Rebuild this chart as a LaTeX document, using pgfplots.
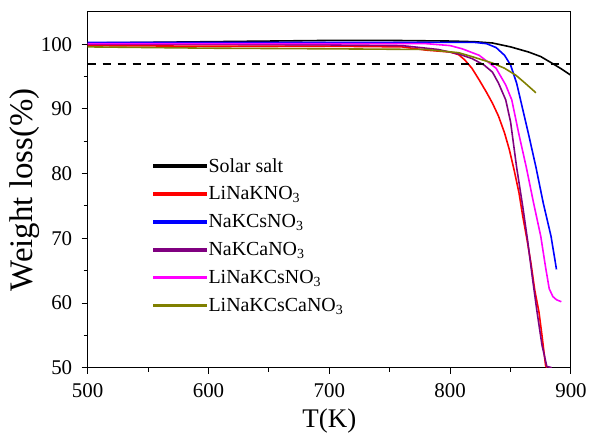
\documentclass[border=0pt]{standalone}
\usepackage{fontspec}
\setmainfont{Liberation Serif}
\usepackage{pgfplots}
\pgfplotsset{compat=1.18}
\usetikzlibrary{calc}
\definecolor{cpurple}{RGB}{128,0,128}
\definecolor{colive}{RGB}{128,128,0}
\definecolor{cmag}{RGB}{255,0,255}
\definecolor{cred}{RGB}{255,0,0}
\definecolor{cblue}{RGB}{0,0,255}
\begin{document}
\begin{tikzpicture}
\begin{axis}[
  scale only axis,
  width=485pt, height=357pt,
  xmin=500, xmax=900, ymin=50, ymax=105,
  xtick={500,600,700,800,900},
  ytick={50,60,70,80,90,100},
  minor x tick num=1, minor y tick num=1,
  tick align=outside, xtick pos=bottom, ytick pos=left,
  major tick length=6pt, minor tick length=4pt,
  axis line style={line width=1pt}, tick style={line width=1pt, black},
  /pgf/number format/assume math mode=true,
  ticklabel style={font=\fontsize{21}{24}\selectfont},
  xticklabel style={yshift=-6pt},
  yticklabel style={xshift=-6pt},
  xlabel={T(K)}, ylabel={Weight loss(\%)},
  xlabel style={font=\fontsize{27}{30}\selectfont, yshift=-5pt},
  ylabel style={font=\fontsize{33}{36}\selectfont, yshift=-6pt},
  legend cell align=left,
  legend style={at={(0.135,0.595)}, anchor=north west, draw=none, fill=none,
    font=\fontsize{20}{23}\selectfont, row sep=9.2pt, inner sep=0pt},
  legend image code/.code={\fill[#1] (0pt,-1pt) rectangle (52pt,1pt);},
]
\addplot[black, line width=1.6pt] coordinates {(500,100.2)(550,100.3)(600,100.4)(650,100.5)(700,100.6)(750,100.6)(800,100.5)(820,100.4)(835,100.2)(850,99.6)(865,98.8)(875,98.1)(885,97.0)(892,96.2)(900,95.2)};
\addlegendentry{Solar salt}
\addplot[cred, line width=1.6pt] coordinates {(500,99.8)(600,99.7)(700,99.7)(760,99.6)(780,99.1)(800,98.8)(807,98.4)(812,97.6)(818,96.3)(824,94.5)(830,92.6)(835,90.9)(840,88.9)(845,86.3)(849,83.7)(853,80.5)(857,77)(860,73.5)(863.6,69.8)(867,66)(870,62)(873.5,58.6)(876,55)(879,50.3)(880,50)};
\addlegendentry{LiNaKNO\textsubscript{3}}
\addplot[cblue, line width=1.6pt] coordinates {(500,100.3)(600,100.3)(700,100.3)(780,100.3)(820,100.3)(830,100.1)(838,99.5)(845,98.3)(850,96.8)(855,94.0)(860,90.0)(865,86.0)(871,81)(877,75.5)(883.5,70.3)(888,65.2)};
\addlegendentry{NaKCsNO\textsubscript{3}}
\addplot[cpurple, line width=1.6pt] coordinates {(500,100.0)(600,100.0)(700,99.9)(760,99.8)(790,99.2)(807,98.5)(818,97.8)(828,96.8)(835,95.7)(840,94)(846,91.4)(850,88)(855,81)(860,75)(864,69.8)(868,64)(872,58.5)(876,53.5)(880,50.2)(884,50.0)};
\addlegendentry{NaKCaNO\textsubscript{3}}
\addplot[cmag, line width=1.6pt] coordinates {(500,100.1)(600,100.1)(700,100.1)(780,100.1)(800,99.8)(810,99.3)(824,98.3)(838,96.3)(846,93.7)(851,91.4)(857,86)(863,81)(869,75.5)(875,70.3)(879,65.5)(882,62.2)(885,61)(888,60.5)(892,60.2)};
\addlegendentry{LiNaKCsNO\textsubscript{3}}
\addplot[colive, line width=1.6pt] coordinates {(500,99.6)(600,99.4)(700,99.3)(780,99.2)(807,98.7)(818,98.1)(835,97.1)(845,96.3)(854.5,95.2)(862,94.0)(871,92.5)};
\addlegendentry{LiNaKCsCaNO\textsubscript{3}}
\addplot[black, line width=1.8pt, dash pattern=on 8pt off 7pt, forget plot] coordinates {(500,97)(900,97)};
\end{axis}
\path ($(current axis.south west)+(-88pt,-65pt)$) rectangle ($(current axis.north east)+(17pt,12pt)$);
\end{tikzpicture}
\end{document}
